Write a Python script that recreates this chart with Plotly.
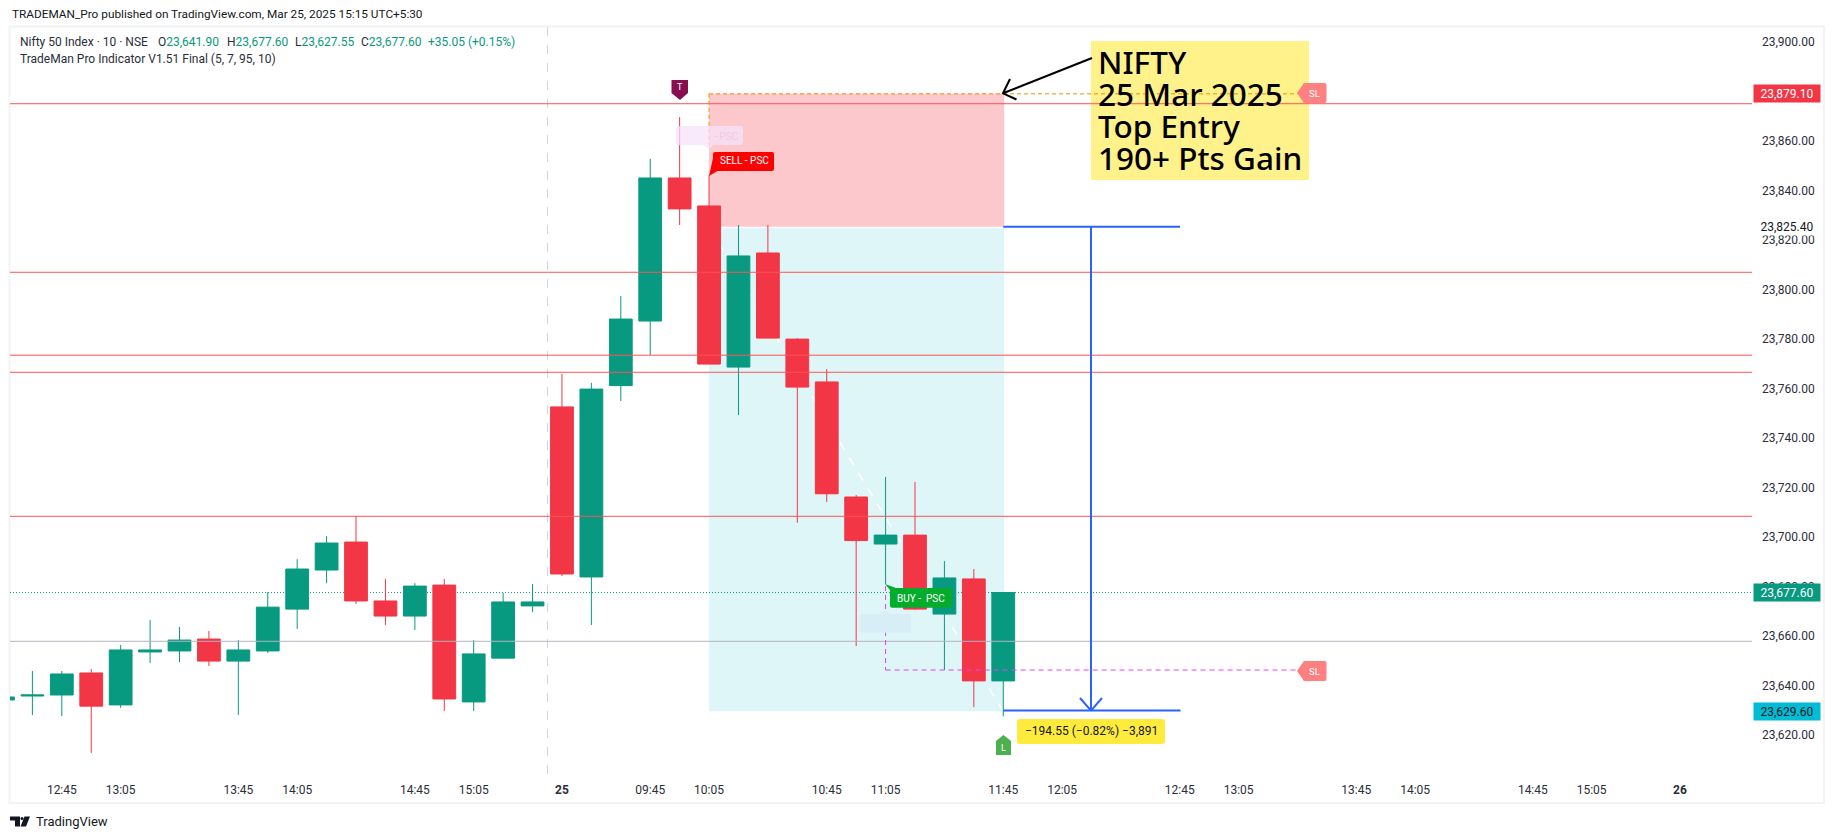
import plotly.graph_objects as go

W, H = 1835, 839
PLOT_L, PLOT_R, PLOT_T, PLOT_B = 10, 1752, 27, 776

# ---- data ----
candle_times = ["12:25","12:35","12:45","12:55","13:05","13:15","13:25","13:35","13:45","13:55",
                "14:05","14:15","14:25","14:35","14:45","14:55","15:05","15:15","15:25",
                "09:15","09:25","09:35","09:45","09:55","10:05","10:15","10:25","10:35","10:45",
                "10:55","11:05","11:15","11:25","11:35","11:45"]
opens  = [23634.2,23635.8,23636.2,23645.1,23632.2,23653.6,23654.0,23658.8,23649.9,23654.0,
          23670.9,23686.7,23698.0,23674.2,23668.1,23680.6,23633.4,23651.1,23672.2,
          23752.6,23683.9,23761.2,23787.3,23845.1,23833.8,23768.7,23814.8,23780.0,23762.7,
          23716.2,23697.2,23700.8,23668.9,23683.1,23641.90]
highs  = [23636.0,23645.9,23645.9,23646.7,23656.4,23666.5,23663.7,23662.1,23658.4,23677.8,
          23691.1,23700.4,23708.4,23683.1,23681.4,23683.1,23658.4,23677.4,23681.0,
          23765.9,23762.3,23797.4,23852.8,23869.7,23846.3,23826.1,23826.1,23780.4,23767.9,
          23717.0,23724.3,23722.3,23690.3,23687.1,23677.60]
lows   = [23633.0,23628.1,23627.7,23612.8,23631.0,23649.1,23649.5,23647.9,23628.1,23653.2,
          23662.9,23681.4,23673.0,23664.5,23662.5,23629.7,23629.7,23651.1,23669.7,
          23684.3,23664.5,23755.0,23773.6,23826.1,23769.9,23749.3,23780.4,23705.8,23714.2,
          23656.0,23681.0,23670.5,23646.3,23631.3,23627.55]
closes = [23635.4,23636.2,23644.7,23631.7,23654.4,23654.4,23658.4,23649.9,23654.4,23671.7,
          23687.1,23697.6,23674.2,23668.1,23680.2,23634.6,23652.8,23673.8,23673.8,
          23685.1,23759.8,23788.1,23845.1,23832.6,23769.9,23813.6,23780.4,23760.6,23717.5,
          23698.6,23700.8,23670.9,23683.5,23641.9,23677.60]

time_tick_pos = [2,4,8,10,14,16,19,22,24,28,30,34,36,40,42,46,48,52,54,57]
time_tick_txt = ["12:45","13:05","13:45","14:05","14:45","15:05","<b>25</b>","09:45","10:05","10:45",
                 "11:05","11:45","12:05","12:45","13:05","13:45","14:05","14:45","15:05","<b>26</b>"]
price_ticks = [23900,23880,23860,23840,23820,23800,23780,23760,23740,23720,23700,23680,23660,23640,23620]

red_levels = [23875.1,23807.0,23773.5,23766.6,23708.4]
gray_level = 23657.9
last_close = 23677.60
sl_top = 23879.10
entry = 23825.40
target = 23629.60
sl_buy = 23646.3
day_break = 18.51
sell_idx, buy_idx, last_idx = 24, 30, 34

TEAL, RED = "#089981", "#F23645"
FONT = "Roboto, sans-serif"
NOTE_FONT = "Noto Sans, sans-serif"
TXT = "#2A2E39"

def px(x): return x / W
def py(y): return 1 - y / H
P2Y = 2.475
def yval(y): return 23900 - (y - 42.1) / P2Y
def xval(x): return 1 + (x - 32.4) / 29.42

fig = go.Figure(go.Candlestick(
    x=list(range(len(candle_times))), open=opens, high=highs, low=lows, close=closes,
    increasing=dict(line=dict(color=TEAL, width=1), fillcolor=TEAL),
    decreasing=dict(line=dict(color=RED, width=1), fillcolor=RED),
    whiskerwidth=0, showlegend=False, hoverinfo="skip"))

shapes, annos = [], []

def dline(x0, y0, x1, y1, color, width=1, dash="solid", layer="above"):
    shapes.append(dict(type="line", xref="x", yref="y", x0=x0, y0=y0, x1=x1, y1=y1,
                       line=dict(color=color, width=width, dash=dash), layer=layer))

def ppath(d, fill=None, line=None, width=0, layer="above", opacity=1):
    shapes.append(dict(type="path", xref="paper", yref="paper", path=d, fillcolor=fill,
                       line=dict(color=line or "rgba(0,0,0,0)", width=width), layer=layer, opacity=opacity))

def pts(points):
    return "M" + " L".join(f"{px(a):.5f},{py(b):.5f}" for a, b in points)

def rrect(x0, y0, x1, y1, r=2):
    P = lambda a, b: f"{px(a):.5f},{py(b):.5f}"
    return (f"M{P(x0+r,y0)} L{P(x1-r,y0)} Q{P(x1,y0)} {P(x1,y0+r)} L{P(x1,y1-r)} Q{P(x1,y1)} {P(x1-r,y1)} "
            f"L{P(x0+r,y1)} Q{P(x0,y1)} {P(x0,y1-r)} L{P(x0,y0+r)} Q{P(x0,y0)} {P(x0+r,y0)} Z")

def text(x, y, s, size=12, color=TXT, anchor="center", family=FONT, weight=None, **kw):
    f = dict(family=family, size=size, color=color)
    if weight:
        f["weight"] = weight
    annos.append(dict(xref="paper", yref="paper", x=px(x), y=py(y), text=s, showarrow=False,
                      xanchor=anchor, yanchor="middle", font=f, **kw))

# pane frame
shapes.append(dict(type="rect", xref="paper", yref="paper", x0=px(9.5), x1=px(1824), y0=py(803), y1=py(26.5),
                   line=dict(color="#F2F3F5", width=2), layer="below"))

# position boxes (below candles)
shapes.append(dict(type="rect", xref="x", yref="y", x0=sell_idx, x1=last_idx + 0.03, y0=entry, y1=sl_top,
                   fillcolor="#FCC8CC", line_width=0, layer="below"))
shapes.append(dict(type="rect", xref="x", yref="y", x0=sell_idx, x1=last_idx + 0.03, y0=target, y1=entry - 0.6,
                   fillcolor="#DFF6F8", line_width=0, layer="below"))
dline(sell_idx, entry, last_idx, target, "#FFFFFF", 1.5, "dash", "below")
dline(day_break, yval(PLOT_T), day_break, yval(PLOT_B), "#CBD6E6", 1, "dash", "below")
dline(xval(PLOT_L), last_close, xval(PLOT_R), last_close, TEAL, 1, "1px,2px", "below")

# yellow note box
ppath(rrect(1091, 41, 1309, 180, 0), fill="#FFF28B")

# horizontal levels
for lv in red_levels:
    dline(xval(PLOT_L), lv, xval(PLOT_R), lv, "#FF5252", 1)
dline(xval(PLOT_L), gray_level, xval(PLOT_R), gray_level, "#B2B5BE", 1)

# stop lines
dline(sell_idx, sl_top, xval(1298), sl_top, "#F08C00", 1, "4px,3px")
dline(sell_idx, sl_top, sell_idx, yval(145), "#F08C00", 1, "4px,3px")
dline(buy_idx, sl_buy, xval(1298), sl_buy, "#E040FB", 1, "5px,4px")
dline(buy_idx, yval(586), buy_idx, sl_buy, "#E040FB", 1, "5px,4px")

# measure lines
dline(last_idx, entry, xval(1180), entry, "#2962FF", 2)
dline(last_idx, target + 0.3, xval(1180.5), target + 0.3, "#2962FF", 2)
xm = xval(1091)
dline(xm, entry, xm, target + 0.3, "#2962FF", 2)
dline(xval(1080), yval(698), xm, target + 0.3, "#2962FF", 2)
dline(xval(1102), yval(698), xm, target + 0.3, "#2962FF", 2)

# black arrow
ppath(pts([(1092, 58), (1003, 93.3)]), line="#000000", width=2)
ppath(pts([(1010, 79), (1003, 93.3), (1016.5, 99.5)]), line="#000000", width=2)

# pale signal labels
ppath(rrect(676, 126, 743, 145), fill="rgba(245,225,250,0.75)")
ppath(pts([(703, 145), (709, 149), (714, 145)]) + " Z", fill="rgba(245,225,250,0.75)")
ppath(rrect(860, 614, 911, 632.7), fill="#D8EEF7")
ppath(pts([(879, 614), (885, 610), (891, 614)]) + " Z", fill="#D8EEF7")

# SELL / BUY
ppath(rrect(713, 152, 774, 171), fill="#FF0000")
ppath(pts([(713, 158), (709, 176), (719, 170)]) + " Z", fill="#FF0000")
ppath(rrect(890, 588, 952, 607.7), fill="#04AC2C")
ppath(pts([(885, 584), (890, 590), (896, 588)]) + " Z", fill="#04AC2C")

# SL tags
for yc in (93.0, 671.0):
    ppath(rrect(1303, yc - 10, 1326.5, yc + 10, 2), fill="#FF8080")
    ppath(pts([(1297, yc), (1304, yc - 10), (1304, yc + 10)]) + " Z", fill="#FF8080")
    text(1314, yc, "SL", size=9.5, color="#FFFFFF")

# T / L markers
ppath(pts([(671.5, 80), (688, 80), (688, 93), (680, 100), (671.5, 93)]) + " Z", fill="#880E4F")
text(680, 87.5, "T", size=9, color="#FFFFFF")
ppath(pts([(996, 741), (1003.5, 735), (1011, 741), (1011, 755), (996, 755)]) + " Z", fill="#4CAF50")
text(1003.5, 748, "L", size=9, color="#FFFFFF")

# measure tag
ppath(rrect(1017, 719, 1165, 744, 3), fill="#FFEB3B")
text(1091, 731, "−194.55 (−0.82%) −3,891", size=12, color="#131722")

text(744, 161, "SELL - PSC", size=10, color="#FFFFFF")
text(921, 598, "BUY -  PSC", size=10, color="#FFFFFF")
text(726, 136, "- PSC", size=10, color="rgba(235,190,225,0.6)")

# note text
for yc, s in zip((61, 93, 125, 157.5), ("NIFTY", "25 Mar 2025", "Top Entry", "190+ Pts Gain")):
    text(1096, yc, s, size=31.5, color="#000000", anchor="left", family=NOTE_FONT, weight=500)

# axis price tags
def tag(yc, s, bg, fg):
    annos.append(dict(xref="paper", yref="paper", x=px(1787), y=py(yc), text=s, showarrow=False,
                      xanchor="center", yanchor="middle", width=66, height=17, bgcolor=bg, borderpad=0,
                      font=dict(family=FONT, size=12, color=fg)))
tag(93.7, "23,879.10", RED, "#FFFFFF")
tag(226.7, "23,825.40", "#FFFFFF", "#131722")
tag(592.7, "23,677.60", TEAL, "#FFFFFF")
tag(711.7, "23,629.60", "#00BCD4", "#131722")

# header and legend
text(9.5, 14, "TRADEMAN_Pro published on TradingView.com, Mar 25, 2025 15:15 UTC+5:30", size=11.8, color="#131722", anchor="left")
v = lambda s: f'<span style="color:{TEAL}">{s}</span>'
text(18, 41.5, "Nifty 50 Index · 10 · NSE", anchor="left")
text(156, 41.5, "O" + v("23,641.90"), anchor="left")
text(224.5, 41.5, "H" + v("23,677.60"), anchor="left")
text(292.5, 41.5, "L" + v("23,627.55"), anchor="left")
text(358.5, 41.5, "C" + v("23,677.60"), anchor="left")
text(426, 41.5, v("+35.05 (+0.15%)"), anchor="left")
text(18, 58.5, "TradeMan Pro Indicator V1.51 Final (5, 7, 95, 10)", size=12, anchor="left")

# footer logo
ppath(pts([(10, 816.5), (20, 816.5), (20, 826.5), (15, 826.5), (15, 820.5), (10, 820.5)]) + " Z", fill="#131722")
ppath(pts([(24.5, 816.5), (30, 816.5), (26, 826.5), (20.5, 826.5)]) + " Z", fill="#131722")
shapes.append(dict(type="circle", xref="paper", yref="paper", x0=px(20.5), x1=px(23.5), y0=py(820), y1=py(817),
                   fillcolor="#131722", line_width=0))
text(33.5, 821.5, "TradingView", size=13, color="#131722", anchor="left")

fig.update_layout(
    width=W, height=H, autosize=False, margin=dict(l=0, r=0, t=0, b=0),
    paper_bgcolor="#FFFFFF", plot_bgcolor="#FFFFFF", showlegend=False,
    boxgap=0.12, boxgroupgap=0.12, hovermode=False,
    shapes=shapes, annotations=annos, font=dict(family=FONT, size=12, color=TXT),
    xaxis=dict(domain=[px(PLOT_L), px(PLOT_R)], range=[xval(PLOT_L), xval(PLOT_R)],
               tickmode="array", tickvals=time_tick_pos, ticktext=time_tick_txt, tickangle=0,
               showgrid=False, zeroline=False, showline=False, ticks="",
               rangeslider=dict(visible=False), ticklabelstandoff=5, fixedrange=True),
    yaxis=dict(domain=[py(PLOT_B), py(PLOT_T)], range=[yval(PLOT_B), yval(PLOT_T)], side="right",
               tickmode="array", tickvals=price_ticks, ticktext=[f"{t:,.2f}" for t in price_ticks],
               showgrid=False, zeroline=False, showline=False, ticks="", ticklabelstandoff=9, fixedrange=True),
)

fig.write_html("out.html", config=dict(displayModeBar=False),
               post_script="document.body.style.margin='0';document.documentElement.style.overflow='hidden';")
